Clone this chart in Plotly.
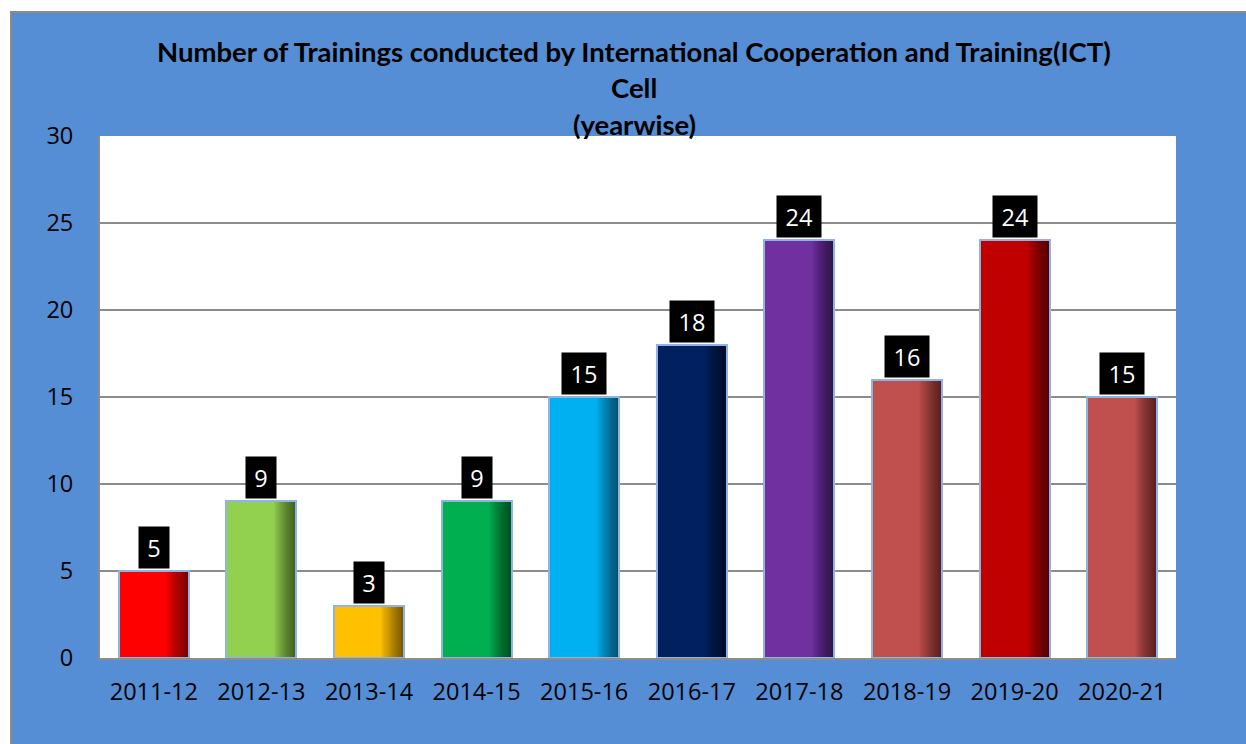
import plotly.graph_objects as go

categories = ["2011-12", "2012-13", "2013-14", "2014-15", "2015-16",
              "2016-17", "2017-18", "2018-19", "2019-20", "2020-21"]
trainings = [5, 9, 3, 9, 15, 18, 24, 16, 24, 15]
bar_colors = ["#FF0000", "#92D050", "#FFC000", "#00B050", "#00B0F0",
              "#002060", "#7030A0", "#C0504D", "#C00000", "#C0504D"]
title_lines = ["Number of Trainings conducted by International Cooperation and Training(ICT)",
               "Cell", "(yearwise)"]
y_ticks = [0, 5, 10, 15, 20, 25, 30]

BAR_W = 0.65
BG_BLUE = "#558ED5"
GRID = "#8C8C8C"
FONT = "Open Sans"

fig = go.Figure()

# main bars
fig.add_trace(go.Bar(x=categories, y=trainings, width=BAR_W,
                     marker=dict(color=bar_colors, line=dict(width=0)),
                     hoverinfo="skip", showlegend=False))

# right-edge shading (approximate gradient)
n_strips = 22
for k in range(n_strips):
    w = 0.21 * (k + 1) / n_strips
    fig.add_trace(go.Bar(x=categories, y=trainings, width=w,
                         offset=BAR_W / 2 - w,
                         marker=dict(color="rgba(0,0,0,0.032)", line=dict(width=0)),
                         hoverinfo="skip", showlegend=False))

# outline
fig.add_trace(go.Bar(x=categories, y=trainings, width=BAR_W,
                     marker=dict(color="rgba(0,0,0,0)",
                                 line=dict(color="#8DB4E2", width=2)),
                     hoverinfo="skip", showlegend=False))

# data labels: black boxes
annotations = []
for c, v in zip(categories, trainings):
    s = str(v)
    annotations.append(dict(x=c, y=v, xref="x", yref="y", text=s,
                            showarrow=False, yanchor="bottom", yshift=2,
                            font=dict(family=FONT, size=23.5, color="white"),
                            bgcolor="black", borderpad=0,
                            width=14 * len(s) + 16, height=41))

# title lines
title_y = [52, 88, 124]
H_TOT = 744
T, B = 136, 86
plot_h = H_TOT - T - B
for line, yy in zip(title_lines, title_y):
    annotations.append(dict(x=(634 - 100) / 1076, y=(H_TOT - B - yy) / plot_h,
                            xref="paper", yref="paper", text=line, showarrow=False,
                            xanchor="center", yanchor="middle",
                            font=dict(family="Lato", size=27.5, color="black", weight="bold")))

shapes = [
    dict(type="rect", xref="paper", yref="paper",
         x0=(11 - 100) / 1076, x1=(1260 - 100) / 1076,
         y0=(658 - 760) / plot_h, y1=(658 - 12) / plot_h,
         fillcolor=BG_BLUE, line=dict(color="#8A8A8A", width=2),
         layer="below"),
    dict(type="rect", xref="paper", yref="paper", x0=0, x1=1, y0=0, y1=1,
         fillcolor="white", line=dict(width=0), layer="below"),
]

fig.update_layout(
    width=1246, height=744,
    margin=dict(l=100, r=70, t=T, b=B),
    paper_bgcolor="white", plot_bgcolor="white",
    barmode="overlay", bargap=0,
    showlegend=False,
    annotations=annotations, shapes=shapes,
    font=dict(family=FONT, size=23, color="black"),
)
fig.update_xaxes(type="category", showgrid=False, showline=True,
                 linecolor=GRID, linewidth=2, ticks="", ticklabelstandoff=12,
                 tickfont=dict(family=FONT, size=23.5, color="black"))
fig.update_yaxes(range=[0, 30], tickvals=y_ticks, showgrid=True, gridcolor=GRID,
                 gridwidth=2, showline=True, linecolor=GRID, linewidth=2,
                 ticks="", ticklabelstandoff=20, zeroline=False,
                 tickfont=dict(family=FONT, size=23.5, color="black"))

fig.write_html("out.html", config={"displayModeBar": False},
               post_script="document.body.style.margin='0';document.body.style.padding='0';document.body.style.overflow='hidden';")
